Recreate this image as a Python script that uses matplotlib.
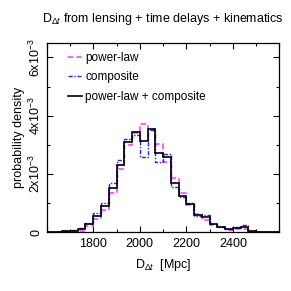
import numpy as np
import matplotlib
matplotlib.use("Agg")
import matplotlib.pyplot as plt
from matplotlib.ticker import MultipleLocator, FixedLocator

plt.rcParams['font.family'] = ['Liberation Sans', 'DejaVu Sans']
plt.rcParams['mathtext.fontset'] = 'custom'
plt.rcParams['mathtext.rm'] = 'Liberation Sans'
plt.rcParams['mathtext.it'] = 'Liberation Sans:italic'
plt.rcParams['mathtext.bf'] = 'Liberation Sans:bold'

# bin edges of the D_dt histograms [Mpc]
bin_edges = np.linspace(1600, 2600, 31)

# probability densities per bin
power_law = [0.0, 0.0, 0.02e-3, 0.04e-3, 0.06e-3, 0.20e-3, 0.45e-3, 0.78e-3,
             1.36e-3, 2.16e-3, 3.00e-3, 3.42e-3, 3.70e-3, 3.56e-3, 3.03e-3,
             2.42e-3, 1.85e-3, 1.34e-3, 0.92e-3, 0.63e-3, 0.42e-3, 0.26e-3,
             0.18e-3, 0.09e-3, 0.10e-3, 0.12e-3, 0.02e-3, 0.01e-3, 0.0, 0.0]
composite = [0.0, 0.02e-3, 0.05e-3, 0.08e-3, 0.15e-3, 0.33e-3, 0.65e-3, 1.00e-3,
             1.68e-3, 2.48e-3, 3.20e-3, 3.33e-3, 2.59e-3, 3.50e-3, 2.40e-3,
             2.68e-3, 1.56e-3, 1.20e-3, 1.00e-3, 0.56e-3, 0.58e-3, 0.30e-3,
             0.19e-3, 0.12e-3, 0.19e-3, 0.25e-3, 0.05e-3, 0.01e-3, 0.0, 0.0]
combined = [0.0, 0.01e-3, 0.03e-3, 0.05e-3, 0.10e-3, 0.27e-3, 0.57e-3, 0.90e-3,
            1.53e-3, 2.31e-3, 3.11e-3, 3.43e-3, 3.14e-3, 3.53e-3, 2.71e-3,
            2.57e-3, 1.70e-3, 1.26e-3, 0.97e-3, 0.59e-3, 0.51e-3, 0.28e-3,
            0.19e-3, 0.10e-3, 0.14e-3, 0.18e-3, 0.03e-3, 0.01e-3, 0.0, 0.0]

labels = ['power-law', 'composite', 'power-law + composite']
x_ticklabels = ['', '1800', '2000', '2200', '2400', '']
y_ticklabels = ['0', '2x10$^{-3}$', '4x10$^{-3}$', '6x10$^{-3}$']

fig = plt.figure(figsize=(2.91, 2.91), dpi=100)
ax = fig.add_axes([0.1605, 0.2017, 0.7995, 0.6513])

ax.stairs(power_law, bin_edges, color='#ff33ff', lw=1.1, ls=(0, (3.5, 2.0)), label=labels[0])
ax.stairs(composite, bin_edges, color='#2222ff', lw=1.0, ls=(0, (3.0, 1.2, 1.0, 1.2)), label=labels[1])
ax.stairs(combined, bin_edges, color='black', lw=1.2, label=labels[2])

ax.set_xlim(1600, 2600)
ax.set_ylim(0, 6.5e-3)

ax.xaxis.set_major_locator(FixedLocator([1600, 1800, 2000, 2200, 2400, 2600]))
ax.set_xticklabels(x_ticklabels)
ax.xaxis.set_minor_locator(MultipleLocator(100))
ax.yaxis.set_major_locator(FixedLocator([0, 2e-3, 4e-3, 6e-3]))
ax.set_yticklabels(y_ticklabels, rotation=90, va='center')
ax.yaxis.set_minor_locator(MultipleLocator(1e-3))

ax.tick_params(which='both', direction='in', top=True, right=True, labelsize=9, width=0.8)
ax.tick_params(which='major', length=4.5, pad=4)
ax.tick_params(which='minor', length=2.5)
ax.tick_params(axis='y', which='major', pad=3)
for s in ax.spines.values():
    s.set_linewidth(0.9)

ax.set_xlabel(r'D$_{\Delta t}$  [Mpc]', fontsize=9, labelpad=5)
ax.set_ylabel('probability density', fontsize=9, labelpad=2)
ax.set_title(r'D$_{\Delta t}$ from lensing + time delays + kinematics', fontsize=9, pad=15)

ax.legend(loc='upper left', bbox_to_anchor=(0.06, 0.99), frameon=False, fontsize=8.5,
          handlelength=1.2, handletextpad=0.3, labelspacing=0.65, borderaxespad=0.2)

fig.savefig('out.png', dpi=100)
